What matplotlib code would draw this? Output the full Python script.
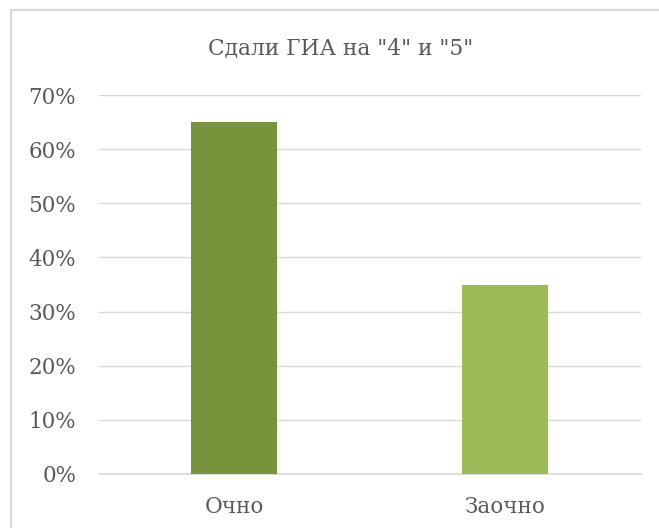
import matplotlib
matplotlib.use("Agg")
import matplotlib.pyplot as plt
from matplotlib.patches import Rectangle
from matplotlib.ticker import FuncFormatter, MultipleLocator

categories = ["Очно", "Заочно"]
values = [65, 35]
colors = ["#77933C", "#9BBB59"]
title = 'Сдали ГИА на "4" и "5"'

plt.rcParams['font.family'] = ['DejaVu Serif']
W, H = 659, 528
fig = plt.figure(figsize=(W/100, H/100), dpi=100)
fig.patch.set_facecolor("white")
fig.add_artist(Rectangle((11/W, -0.05), 1.1, 1.05 - 10/H, transform=fig.transFigure,
                         fill=False, edgecolor="#D9D9D9", linewidth=1.5))

ax = fig.add_axes([98.5/W, 1-474/H, (640.5-98.5)/W, (474-95)/H])
x = range(len(categories))
ax.bar(x, values, width=0.317, color=colors, zorder=3)
ax.set_xlim(-0.5, 1.5)
ax.set_ylim(0, 70)
ax.yaxis.set_major_locator(MultipleLocator(10))
ax.yaxis.set_major_formatter(FuncFormatter(lambda v, p: f"{int(round(v))}%"))
ax.set_xticks(list(x))
ax.set_xticklabels(categories)
ax.grid(axis="y", color="#D9D9D9", linewidth=1, zorder=0)
for s in ["top", "right", "left"]:
    ax.spines[s].set_visible(False)
ax.spines["bottom"].set_color("#D9D9D9")
ax.spines["bottom"].set_linewidth(1.2)
ax.tick_params(axis="both", length=0, colors="#595959", labelsize=15.5)
ax.tick_params(axis="y", pad=16)
ax.tick_params(axis="x", pad=16)
fig.text(341/W, 1-48/H, title, ha="center", va="center", fontsize=15.7, color="#595959")
fig.savefig("out.png", dpi=100, facecolor="white")
